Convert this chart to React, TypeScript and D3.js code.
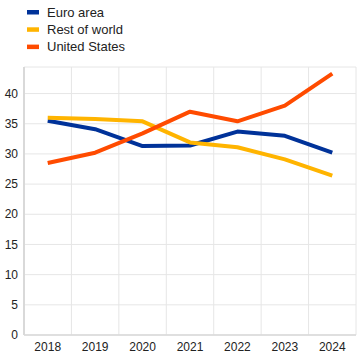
import React from "react";
import * as d3 from "d3";

const years = ["2018", "2019", "2020", "2021", "2022", "2023", "2024"];
const euroArea = [35.5, 34.1, 31.3, 31.4, 33.7, 33.0, 30.2];
const restOfWorld = [36.0, 35.8, 35.4, 31.9, 31.1, 29.1, 26.4];
const unitedStates = [28.5, 30.2, 33.4, 37.0, 35.4, 38.0, 43.3];
const yTicks = [0, 5, 10, 15, 20, 25, 30, 35, 40];
const seriesNames = ["Euro area", "Rest of world", "United States"];
const seriesColors = ["#003299", "#ffb400", "#ff4b00"];

export default function App() {
  const W = 361, H = 357;
  const left = 24, right = 356, top = 67, bottom = 335;
  const x = d3.scaleBand<string>().domain(years).range([left, right]);
  const y = d3.scaleLinear().domain([0, 44.4]).range([bottom, top]);
  const cx = (d: string) => (x(d) as number) + x.bandwidth() / 2;
  const line = d3.line<number>().x((_, i) => cx(years[i])).y((v) => y(v));
  const data = [euroArea, restOfWorld, unitedStates];
  const font = "'Liberation Sans', Arial, sans-serif";
  return (
    <svg width={W} height={H} style={{ position: "absolute", left: 0, top: 0 }}>
      <rect width={W} height={H} fill="#fff" />
      {yTicks.map((t) => (
        <line key={"h" + t} x1={left} x2={right} y1={y(t)} y2={y(t)} stroke="#e6e6e6" strokeWidth={1} />
      ))}
      <line x1={left} x2={right} y1={top} y2={top} stroke="#e6e6e6" />
      {years.map((yr) => (
        <line key={"v" + yr} x1={x(yr) as number} x2={x(yr) as number} y1={top} y2={bottom} stroke="#e6e6e6" />
      ))}
      <line x1={right} x2={right} y1={top} y2={bottom} stroke="#e6e6e6" />
      <line x1={left} x2={left} y1={top} y2={bottom} stroke="#d9d9d9" strokeWidth={2} />
      <line x1={left} x2={right} y1={bottom} y2={bottom} stroke="#d9d9d9" strokeWidth={1.5} />
      {yTicks.map((t) => (
        <text key={"yl" + t} x={18} y={y(t)} dy="0.35em" textAnchor="end" fontSize={12} fontFamily={font} fill="#222">
          {t}
        </text>
      ))}
      {years.map((yr) => (
        <text key={"xl" + yr} x={cx(yr)} y={351} textAnchor="middle" fontSize={12} fontFamily={font} fill="#222">
          {yr}
        </text>
      ))}
      {data.map((s, i) => (
        <path key={"s" + i} d={line(s) as string} fill="none" stroke={seriesColors[i]} strokeWidth={4} strokeLinejoin="round" />
      ))}
      {seriesNames.map((n, i) => (
        <g key={"lg" + i}>
          <rect x={27} y={10 + i * 17.3} width={12} height={4.5} fill={seriesColors[i]} />
          <text x={47} y={12.3 + i * 17.3} dy="0.35em" fontSize={13} fontFamily={font} fill="#222">
            {n}
          </text>
        </g>
      ))}
    </svg>
  );
}
